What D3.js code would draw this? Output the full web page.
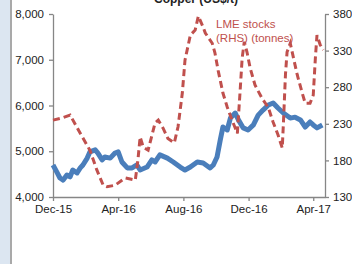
<!DOCTYPE html>
<html>
<head>
<meta charset="utf-8">
<script src="https://cdn.jsdelivr.net/npm/d3@7"></script>
<style>
  body { margin: 0; background: #fff; }
  svg { display: block; font-family: "Liberation Sans", Arial, sans-serif; }
</style>
</head>
<body>
<svg id="chart" width="352" height="264"></svg>
<script>
// copper price, US$/t (left axis)
const copperDates = ["2015-12-01","2015-12-08","2015-12-14","2015-12-20","2015-12-27","2016-01-02","2016-01-07","2016-01-15","2016-01-21","2016-01-26","2016-02-03","2016-02-08","2016-02-18","2016-02-23","2016-03-02","2016-03-07","2016-03-17","2016-03-26","2016-04-01","2016-04-08","2016-04-18","2016-04-27","2016-05-06","2016-05-12","2016-05-25","2016-06-03","2016-06-09","2016-06-18","2016-07-02","2016-07-13","2016-07-26","2016-08-04","2016-08-14","2016-08-27","2016-09-07","2016-09-20","2016-09-26","2016-10-03","2016-10-09","2016-10-14","2016-10-22","2016-10-28","2016-11-06","2016-11-12","2016-11-21","2016-11-30","2016-12-10","2016-12-19","2016-12-28","2017-01-07","2017-01-16","2017-01-25","2017-02-04","2017-02-17","2017-02-26","2017-03-08","2017-03-17","2017-03-26","2017-04-01","2017-04-08","2017-04-18"];
const copperPrice = [4700,4550,4415,4370,4480,4440,4590,4525,4635,4700,4850,4985,5030,4960,4810,4875,4850,4960,4985,4765,4635,4635,4700,4590,4655,4810,4765,4920,4850,4765,4655,4590,4655,4765,4745,4635,4700,4875,5245,5530,5465,5725,5835,5685,5510,5465,5575,5790,5900,6010,6055,5945,5835,5725,5745,5685,5530,5640,5575,5510,5575];

// LME stocks, '000 tonnes (right axis)
const stockDates = ["2015-12-01","2015-12-18","2016-01-02","2016-01-21","2016-02-08","2016-02-21","2016-03-04","2016-03-11","2016-03-26","2016-04-14","2016-05-03","2016-05-08","2016-05-12","2016-05-18","2016-05-27","2016-06-09","2016-06-15","2016-06-24","2016-07-03","2016-07-15","2016-07-22","2016-07-30","2016-08-04","2016-08-14","2016-08-23","2016-08-29","2016-09-07","2016-09-11","2016-09-24","2016-09-29","2016-10-05","2016-10-14","2016-10-22","2016-10-31","2016-11-10","2016-11-15","2016-11-19","2016-11-23","2016-11-28","2016-12-04","2016-12-13","2016-12-26","2017-01-07","2017-01-16","2017-01-25","2017-02-02","2017-02-04","2017-02-08","2017-02-11","2017-02-17","2017-02-23","2017-03-02","2017-03-11","2017-03-17","2017-03-26","2017-04-01","2017-04-05","2017-04-08","2017-04-14","2017-04-20"];
const stockLevels = [235,238,242,217,194,167,146,144,146,156,153,181,212,198,194,231,235,224,210,204,226,272,317,351,358,377,362,354,340,327,303,272,253,235,217,273,320,342,328,306,283,265,252,232,215,197,228,297,328,340,320,297,273,258,258,269,320,351,338,331];

const xTicks = ["2015-12-01","2016-04-01","2016-08-01","2016-12-01","2017-04-01"];
const leftTicks = [4000,5000,6000,7000,8000];
const rightTicks = [130,180,230,280,330,380];

const parse = d3.timeParse("%Y-%m-%d");
const copper = copperDates.map((d, i) => ({ date: parse(d), value: copperPrice[i] }));
const stocks = stockDates.map((d, i) => ({ date: parse(d), value: stockLevels[i] }));

const svg = d3.select("#chart");

// left grey strip of the page
svg.append("rect").attr("x", 0).attr("y", 0).attr("width", 11).attr("height", 264).attr("fill", "#dce6f1");
svg.append("line").attr("x1", 11).attr("x2", 11).attr("y1", 0).attr("y2", 264)
  .attr("stroke", "#a9a9a9").attr("stroke-width", 2);

const x = d3.scaleTime()
  .domain([parse("2015-12-01"), parse("2017-04-23")])
  .range([53, 325]);
const yLeft = d3.scaleLinear().domain([4000, 8000]).range([197, 14]);
const yRight = d3.scaleLinear().domain([130, 380]).range([197, 14]);

// title, mostly cut off at the top
svg.append("text").attr("x", 196).attr("y", 3).attr("text-anchor", "middle")
  .attr("font-size", 12).attr("font-weight", "bold").attr("fill", "#222")
  .text("Copper (US$/t)");

function styleAxis(g) {
  g.select(".domain").attr("stroke", "#868686").attr("stroke-width", 1.3);
  g.selectAll(".tick line").attr("stroke", "#868686").attr("stroke-width", 1.3);
  g.selectAll(".tick text").attr("fill", "#222").attr("font-size", 11.5);
}

svg.append("g")
  .attr("transform", "translate(53,0)")
  .call(d3.axisLeft(yLeft).tickValues(leftTicks).tickFormat(d3.format(",")).tickSize(4).tickPadding(5).tickSizeOuter(0))
  .call(styleAxis);

svg.append("g")
  .attr("transform", "translate(325,0)")
  .call(d3.axisRight(yRight).tickValues(rightTicks).tickSize(4).tickPadding(4).tickSizeOuter(0))
  .call(styleAxis);

svg.append("g")
  .attr("transform", "translate(0,197)")
  .call(d3.axisBottom(x).tickValues(xTicks.map(parse)).tickFormat(d3.timeFormat("%b-%y")).tickSize(4).tickPadding(4).tickSizeOuter(0))
  .call(styleAxis);

const copperLine = d3.line().x(d => x(d.date)).y(d => yLeft(d.value));
const stockLine = d3.line().x(d => x(d.date)).y(d => yRight(d.value));

svg.append("path").datum(copper)
  .attr("d", copperLine)
  .attr("fill", "none")
  .attr("stroke", "#4a7ebb")
  .attr("stroke-width", 5)
  .attr("stroke-linejoin", "round");

svg.append("path").datum(stocks)
  .attr("d", stockLine)
  .attr("fill", "none")
  .attr("stroke", "#c0504d")
  .attr("stroke-width", 3)
  .attr("stroke-dasharray", "7,4");

// in-chart label for the red series
const lbl = svg.append("text").attr("fill", "#c0504d").attr("font-size", 11.5);
lbl.append("tspan").attr("x", 216).attr("y", 28).text("LME stocks");
lbl.append("tspan").attr("x", 216).attr("y", 42).text("(RHS) (tonnes)");
</script>
</body>
</html>
